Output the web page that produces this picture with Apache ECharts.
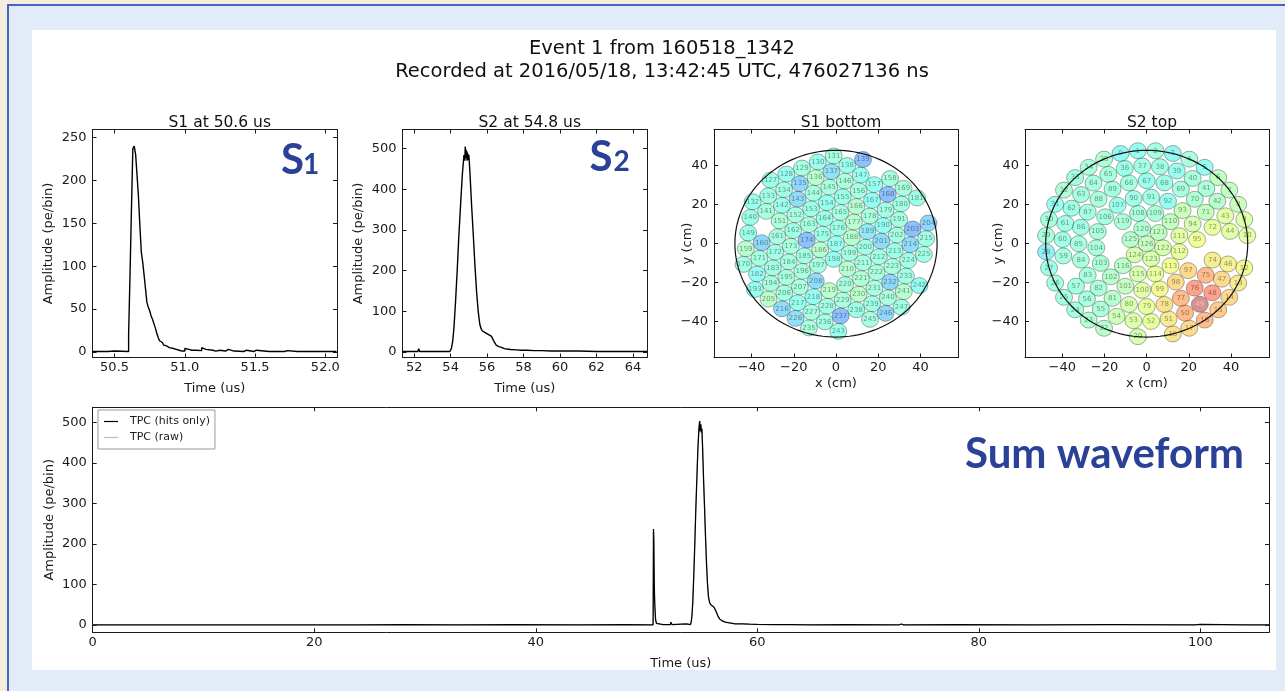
<!DOCTYPE html>
<html><head><meta charset="utf-8">
<script src="https://cdn.jsdelivr.net/npm/echarts@6/dist/echarts.min.js"></script>
<style>
html,body{margin:0;padding:0;width:1285px;height:691px;overflow:hidden;background:#f4ecdc;}
#frame{position:absolute;left:7px;top:4px;width:1290px;height:700px;background:#e2ecf8;border-left:2px solid #4366c4;border-top:2px solid #4366c4;}
#paper{position:absolute;left:32px;top:30px;width:1244px;height:640px;background:#fff;}
#chart{position:absolute;left:0;top:0;width:1285px;height:691px;}
</style></head>
<body><div id="frame"></div><div id="paper"></div><div id="chart"></div>
<script>
// ---------------- DATA ----------------
const titleLine1 = 'Event 1 from 160518_1342';
const titleLine2 = 'Recorded at 2016/05/18, 13:42:45 UTC, 476027136 ns';
const panelTitles = ['S1 at 50.6 us', 'S2 at 54.8 us', 'S1 bottom', 'S2 top'];

// S1 waveform (10 ns bins)
const s1Time = [50.34,50.45,50.5,50.6,50.61,50.62,50.63,50.64,50.65,50.66,50.67,50.68,50.69,50.70,50.71,50.72,50.73,50.74,50.75,50.76,50.77,50.78,50.79,50.80,50.81,50.82,50.83,50.84,50.85,50.86,50.87,50.88,50.89,50.90,50.92,50.94,50.96,50.98,51.00,51.01,51.03,51.05,51.08,51.12,51.13,51.15,51.2,51.22,51.25,51.29,51.31,51.35,51.42,51.44,51.49,51.51,51.6,51.71,51.73,51.8,51.9,52.0,52.08];
const s1Amp  = [0.5,1,0.5,21,90,165,237,240,230,206,181,148,117,105,90,74,58,52,48,42,38,33,28,22,17,13,11,9,8,7,6,5,5,4,3,2,1,1,4,3,2,2,1.5,5,3,2,1,2,1,3,1,0.5,2,0.5,2,0.5,0.5,1.5,0.5,0.5,0.5,0.5,0.5];

// S2 waveform
const s2Time = [51.36,52.2,52.25,52.3,53.55,53.6,53.65,53.96,54.04,54.11,54.18,54.27,54.36,54.45,54.55,54.64,54.73,54.78,54.80,54.82,54.84,54.86,54.88,54.90,54.92,54.94,54.96,54.98,55.00,55.03,55.06,55.10,55.15,55.24,55.33,55.42,55.51,55.60,55.67,55.73,55.80,55.87,55.95,56.06,56.15,56.24,56.28,56.33,56.40,56.51,56.65,56.79,56.95,57.06,57.3,57.6,57.9,58.2,58.6,59.0,59.5,60.0,61.0,62.0,63.0,64.0,64.77];
const s2Amp  = [1,1,8,1,1,5,1,1,8,25,58,124,200,285,365,435,484,470,505,480,498,476,494,470,490,472,486,478,484,462,440,405,360,290,215,150,100,68,57,52,49,48,45,43,45,38,42,30,24,16,13,11,8,7,6,5,4,4,3,3,2,2,2,1,1,1,1];

// Sum waveform (TPC)
const sumTime = [0,2.1,2.2,5.0,8.4,8.5,9.6,11.9,12.0,13.4,13.5,14.9,15.0,16.0,16.1,17.7,17.8,19.4,19.5,21.4,21.5,24,28,33,38,44,48,50.59,50.6,50.61,50.62,50.63,50.64,50.66,50.68,50.70,50.72,50.75,50.78,50.82,50.9,51.0,51.5,52.15,52.2,52.3,53.6,53.96,54.04,54.11,54.18,54.27,54.36,54.45,54.55,54.64,54.73,54.8,54.85,54.9,54.95,55.0,55.06,55.15,55.24,55.33,55.42,55.51,55.6,55.7,55.8,55.95,56.1,56.25,56.33,56.45,56.6,56.8,57.1,57.5,58.0,58.6,59.3,60.0,61.5,63,65,68,72.8,73.0,73.2,78.0,85,92,99.5,100,104,106.2];
const sumHits = [0.5,0.5,2,0.5,0.5,2,0.5,0.5,2,0.5,2.5,0.5,2,0.5,2,0.5,2,0.5,2,0.5,2,0.5,1,0.5,1,0.5,1,0.5,21,90,165,237,240,206,148,105,74,48,33,13,4,3,1,1,7,1,3,1,8,25,58,124,200,285,365,435,484,503,478,495,475,484,440,360,290,215,150,100,68,55,50,46,44,40,30,22,15,11,7,5,3,3,2,1.5,1,1,0.5,1,0.5,2.5,0.5,1,0.5,1,0.5,1.5,0.5,0.5];

// Top PMT array (S2 top): id, position (cm), relative hit fraction (colour scale 0..1)
const topId = [0,1,2,3,4,5,6,7,8,9,10,12,13,14,15,16,17,18,20,22,23,24,25,26,27,28,29,30,31,32,33,34,35,36,37,38,39,40,41,42,43,44,46,47,48,49,50,51,52,53,54,55,56,57,59,60,61,62,63,64,65,66,67,68,69,70,71,72,74,75,76,77,78,79,80,81,82,83,84,85,86,87,88,89,90,91,92,93,94,95,97,98,99,100,101,102,103,104,105,106,107,108,109,110,111,112,113,114,115,116,119,120,121,122,123,124,125,126];
const topX = [-12.4,-4.2,4.2,12.4,20.2,27.5,33.9,39.2,43.4,46.3,47.7,46.3,43.4,39.2,33.9,27.5,20.2,12.4,-4.2,-20.2,-27.5,-33.9,-39.2,-43.4,-46.3,-47.7,-47.7,-46.3,-43.4,-39.2,-33.9,-27.5,-20.2,-10.4,-2.1,6.3,14.3,21.8,28.3,33.5,37.3,39.5,38.6,35.6,31.1,25.2,18.2,10.4,2.1,-6.3,-14.3,-21.8,-28.3,-33.5,-39.5,-39.9,-38.6,-35.6,-31.1,-25.2,-18.2,-8.4,0.0,8.4,16.2,22.8,28.0,31.2,31.2,28.0,22.8,16.2,8.4,0.0,-8.4,-16.2,-22.8,-28.0,-31.2,-32.3,-31.2,-28.0,-22.8,-16.2,-6.2,2.1,10.1,17.0,21.8,23.9,19.7,13.8,6.2,-2.1,-10.1,-17.0,-21.8,-23.9,-23.2,-19.7,-13.8,-4.1,4.1,11.3,15.5,15.5,11.3,4.1,-4.1,-11.3,-11.3,-2.1,5.7,7.7,2.1,-5.7,-7.7,0.0];
const topY = [46.3,47.7,47.7,46.3,43.4,39.2,33.9,27.5,20.2,12.4,4.2,-12.4,-20.2,-27.5,-33.9,-39.2,-43.4,-46.3,-47.7,-43.4,-39.2,-33.9,-27.5,-20.2,-12.4,-4.2,4.2,12.4,20.2,27.5,33.9,39.2,43.4,38.6,39.9,39.5,37.3,33.5,28.3,21.8,14.3,6.3,-10.4,-18.2,-25.2,-31.1,-35.6,-38.6,-39.9,-39.5,-37.3,-33.5,-28.3,-21.8,-6.3,2.1,10.4,18.2,25.2,31.1,35.6,31.2,32.3,31.2,28.0,22.8,16.2,8.4,-8.4,-16.2,-22.8,-28.0,-31.2,-32.3,-31.2,-28.0,-22.8,-16.2,-8.4,0.0,8.4,16.2,22.8,28.0,23.2,23.9,21.8,17.0,10.1,2.1,-13.8,-19.7,-23.2,-23.9,-21.8,-17.0,-10.1,-2.1,6.2,13.8,19.7,15.5,15.5,11.3,4.1,-4.1,-11.3,-15.5,-15.5,-11.3,11.3,7.7,5.7,-2.1,-7.7,-5.7,2.1,0.0];
const topHits = [0.36,0.37,0.42,0.36,0.43,0.37,0.50,0.50,0.52,0.57,0.58,0.64,0.68,0.72,0.76,0.80,0.72,0.70,0.55,0.47,0.45,0.42,0.42,0.42,0.40,0.34,0.43,0.42,0.38,0.45,0.41,0.43,0.45,0.40,0.41,0.41,0.38,0.43,0.44,0.47,0.58,0.58,0.66,0.72,0.86,0.96,0.80,0.68,0.60,0.57,0.53,0.44,0.43,0.42,0.42,0.41,0.41,0.40,0.42,0.42,0.43,0.42,0.39,0.40,0.43,0.45,0.50,0.60,0.67,0.80,0.86,0.80,0.70,0.60,0.55,0.47,0.44,0.43,0.43,0.42,0.41,0.42,0.43,0.42,0.41,0.41,0.38,0.52,0.55,0.62,0.72,0.72,0.64,0.58,0.50,0.47,0.44,0.43,0.43,0.42,0.39,0.43,0.44,0.50,0.58,0.60,0.63,0.60,0.55,0.48,0.44,0.45,0.50,0.55,0.56,0.55,0.47,0.50];

// Bottom PMT array (S1 bottom)
const botId = [127,128,129,130,131,132,133,134,135,136,137,138,139,140,141,142,143,144,145,146,147,149,151,152,153,154,155,156,157,158,159,160,161,162,163,164,165,166,167,168,169,170,171,172,173,174,175,176,177,178,179,180,181,182,183,184,185,186,187,188,189,190,191,193,194,195,196,197,198,199,200,201,202,203,204,205,206,207,208,210,211,212,213,214,215,216,217,218,219,220,221,222,223,224,225,226,227,228,229,230,231,232,233,235,236,237,238,239,240,241,242,243,245,246,247];
const botX = [-31.0,-23.5,-16.1,-8.6,-1.1,-39.5,-32.1,-24.6,-17.1,-9.6,-2.2,5.3,12.8,-40.6,-33.1,-25.6,-18.2,-10.7,-3.2,4.2,11.7,-41.6,-26.7,-19.2,-11.8,-4.3,3.2,10.7,18.1,25.6,-42.7,-35.2,-27.8,-20.3,-12.8,-5.4,2.1,9.6,17.1,24.5,32.0,-43.8,-36.3,-28.8,-21.4,-13.9,-6.4,1.1,8.5,16.0,23.5,30.9,38.4,-37.4,-29.9,-22.4,-14.9,-7.5,0.0,7.5,14.9,22.4,29.9,-38.4,-30.9,-23.5,-16.0,-8.5,-1.1,6.4,13.9,21.4,28.8,36.3,43.8,-32.0,-24.5,-17.1,-9.6,5.4,12.8,20.3,27.8,35.2,42.7,-25.6,-18.1,-10.7,-3.2,4.3,11.8,19.2,26.7,34.2,41.6,-19.2,-11.7,-4.2,3.2,10.7,18.2,25.6,33.1,-12.8,-5.3,2.2,9.6,17.1,24.6,32.1,39.5,1.1,16.1,23.5,31.0];
const botY = [32.6,35.7,38.8,41.9,45.0,21.5,24.6,27.7,30.8,33.9,37.0,40.1,43.2,13.5,16.6,19.7,22.8,25.9,29.0,32.1,35.2,5.5,11.7,14.8,17.9,21.0,24.1,27.2,30.3,33.4,-2.6,0.5,3.6,6.7,9.8,12.9,16.0,19.1,22.2,25.3,28.4,-10.6,-7.5,-4.4,-1.3,1.8,4.9,8.0,11.1,14.2,17.3,20.4,23.5,-15.5,-12.4,-9.3,-6.2,-3.1,0.0,3.1,6.2,9.3,12.4,-23.5,-20.4,-17.3,-14.2,-11.1,-8.0,-4.9,-1.8,1.3,4.4,7.5,10.6,-28.4,-25.3,-22.2,-19.1,-12.9,-9.8,-6.7,-3.6,-0.5,2.6,-33.4,-30.3,-27.2,-24.1,-21.0,-17.9,-14.8,-11.7,-8.6,-5.5,-38.3,-35.2,-32.1,-29.0,-25.9,-22.8,-19.7,-16.6,-43.2,-40.1,-37.0,-33.9,-30.8,-27.7,-24.6,-21.5,-45.0,-38.8,-35.7,-32.6];
const botHits = [0.40,0.38,0.42,0.39,0.42,0.39,0.41,0.41,0.29,0.47,0.31,0.39,0.24,0.40,0.42,0.39,0.30,0.42,0.42,0.44,0.38,0.40,0.44,0.42,0.40,0.38,0.40,0.42,0.38,0.42,0.47,0.29,0.42,0.41,0.42,0.40,0.42,0.46,0.37,0.24,0.43,0.41,0.42,0.41,0.43,0.24,0.40,0.40,0.47,0.43,0.41,0.41,0.40,0.37,0.41,0.42,0.41,0.47,0.38,0.46,0.33,0.37,0.42,0.38,0.42,0.43,0.43,0.42,0.38,0.42,0.41,0.30,0.42,0.24,0.29,0.48,0.42,0.43,0.30,0.46,0.42,0.41,0.40,0.30,0.41,0.30,0.38,0.37,0.48,0.43,0.45,0.43,0.43,0.41,0.41,0.31,0.42,0.41,0.43,0.48,0.43,0.29,0.41,0.43,0.41,0.24,0.40,0.41,0.43,0.47,0.37,0.39,0.42,0.29,0.41];

const detectorRadius = 47.9;

// tick labels
const s1XTicks = [50.5, 51.0, 51.5, 52.0];
const s1YTicks = [0, 50, 100, 150, 200, 250];
const s2XTicks = [52, 54, 56, 58, 60, 62, 64];
const s2YTicks = [0, 100, 200, 300, 400, 500];
const mapTicks = [-40, -20, 0, 20, 40];
const sumXTicks = [0, 20, 40, 60, 80, 100];
const sumYTicks = [0, 100, 200, 300, 400, 500];

// ---------------- CHART ----------------
const FONT = 'DejaVu Sans';
const INK = '#1a1a1a';
const TICK_FS = 13;
const jet = ['#000080','#0000ff','#0080ff','#14ffe2','#7bff7b','#e2ff14','#ff9700','#ff2100','#800000'];

function fmtMinus(v){ return (v < 0 ? '\u2212' : '') + Math.abs(v); }

function axes(grid, min, max, ticks, fmt, name, gap, isX){
  const common = {gridIndex: grid, type:'value', min:min, max:max, scale:true,
    splitLine:{show:false},
    axisLine:{show:true, onZero:false, lineStyle:{color:INK, width:1}}};
  const main = Object.assign({}, common, {
    position: isX ? 'bottom' : 'left',
    name: name, nameLocation:'middle', nameGap: gap, nameMoveOverlap:false,
    nameTextStyle:{fontFamily:FONT, fontSize:13, color:INK},
    axisTick:{show:true, inside:true, length:4, customValues:ticks, lineStyle:{color:INK}},
    axisLabel:{show:true, customValues:ticks, formatter:fmt, margin: isX ? 4 : 6,
      fontFamily:FONT, fontSize:TICK_FS, color:INK}
  });
  const mirror = Object.assign({}, common, {
    position: isX ? 'top' : 'right',
    axisTick:{show:true, inside:true, length:4, customValues:ticks, lineStyle:{color:INK}},
    axisLabel:{show:false}
  });
  return [main, mirror];
}

const grids = [
  {left:92.5, top:129.5, width:244.5, height:228},
  {left:402.5, top:129.5, width:244.5, height:228},
  {left:714, top:129.5, width:244, height:228},
  {left:1025, top:129.5, width:244, height:228},
  {left:92.7, top:407.3, width:1176.3, height:225}
].map(g => Object.assign({containLabel:false, outerBoundsMode:'none'}, g));

const xAxes = [].concat(
  axes(0, 50.343, 52.083, s1XTicks, v => v.toFixed(1), 'Time (us)', 25, true),
  axes(1, 51.36, 64.77, s2XTicks, v => String(v), 'Time (us)', 25, true),
  axes(2, -57.8, 57.8, mapTicks, fmtMinus, 'x (cm)', 20, true),
  axes(3, -57.7, 58.0, mapTicks, fmtMinus, 'x (cm)', 20, true),
  axes(4, 0, 106.2, sumXTicks, v => String(v), 'Time (us)', 25, true)
);
const yAxes = [].concat(
  axes(0, -6.5, 259.3, s1YTicks, v => String(v), 'Amplitude (pe/bin)', 37, false),
  axes(1, -13.8, 546.7, s2YTicks, v => String(v), 'Amplitude (pe/bin)', 37, false),
  axes(2, -58.4, 58.6, mapTicks, fmtMinus, 'y (cm)', 20, false),
  axes(3, -58.4, 58.6, mapTicks, fmtMinus, 'y (cm)', 20, false),
  axes(4, -18, 537, sumYTicks, v => String(v), 'Amplitude (pe/bin)', 37, false)
);

function pmtData(ids, xs, ys, hits){
  return ids.map((id, i) => {
    const item = {name: String(id), value:[xs[i], ys[i], hits[i]]};
    if (hits[i] >= 0.95) item.label = {color:'#ffffff'};
    return item;
  });
}

function boundary(params, api){
  const c = api.coord([api.value(0), api.value(1)]);
  const s = api.size([api.value(2), api.value(2)]);
  const pts = [];
  for (let k = 0; k <= 144; k++) {
    const a = k / 144 * 2 * Math.PI;
    pts.push([c[0] + s[0] * Math.cos(a), c[1] + s[1] * Math.sin(a)]);
  }
  return {type:'polyline', shape:{points:pts}, style:{stroke:'#111', lineWidth:1.2, fill:null}};
}

const pmtSeries = (name, axisIdx, data) => ({
  type:'scatter', name:name, xAxisIndex:axisIdx, yAxisIndex:axisIdx, data:data,
  symbol:'circle', symbolSize:[17, 16],
  itemStyle:{opacity:0.45, borderColor:'#333', borderWidth:0.9},
  label:{show:true, position:'inside', formatter:'{b}', fontSize:7, fontFamily:FONT, color:'#111'},
  emphasis:{disabled:true}, z:3
});

const pair = (ts, vs) => ts.map((t, i) => [t, vs[i]]);
const ptitle = (text, x) => ({text:text, left:x, top:110, textAlign:'center',
  textStyle:{fontFamily:FONT, fontSize:15.5, fontWeight:'normal', color:'#111'}});

const option = {
  animation:false,
  backgroundColor:'transparent',
  textStyle:{fontFamily:FONT},
  title:[
    {text: titleLine1 + '\n' + titleLine2, left:657, top:32, textAlign:'center',
      textStyle:{fontFamily:FONT, fontSize:19.5, fontWeight:'normal', color:'#111', lineHeight:23}},
    ptitle(panelTitles[0], 214.75),
    ptitle(panelTitles[1], 524.75),
    ptitle(panelTitles[2], 836),
    ptitle(panelTitles[3], 1147)
  ],
  grid: grids,
  xAxis: xAxes,
  yAxis: yAxes,
  legend:{
    data:['TPC (hits only)', 'TPC (raw)'], left:98, top:410, orient:'vertical',
    icon:'rect', itemWidth:14, itemHeight:1.2, itemGap:5,
    borderColor:'#9a9a9a', borderWidth:1, padding:[6, 5, 6, 6], backgroundColor:'#fff',
    textStyle:{fontFamily:FONT, fontSize:11, color:INK, padding:[0,0,0,7]},
    selectedMode:false
  },
  visualMap:[
    {show:false, type:'continuous', seriesIndex:2, dimension:2, min:0, max:1, inRange:{color:jet}},
    {show:false, type:'continuous', seriesIndex:4, dimension:2, min:0, max:1, inRange:{color:jet}}
  ],
  series:[
    {type:'line', name:'S1', xAxisIndex:0, yAxisIndex:0, step:'end', data:pair(s1Time, s1Amp),
      symbol:'none', lineStyle:{color:'#000', width:1.4}, itemStyle:{color:'#000'}, silent:true},
    {type:'line', name:'S2', xAxisIndex:2, yAxisIndex:2, data:pair(s2Time, s2Amp),
      symbol:'none', lineStyle:{color:'#000', width:1.4}, itemStyle:{color:'#000'}, silent:true},
    pmtSeries('S1 bottom', 4, pmtData(botId, botX, botY, botHits)),
    {type:'custom', xAxisIndex:4, yAxisIndex:4, renderItem:boundary, data:[[0, 0, detectorRadius]], z:4, silent:true},
    pmtSeries('S2 top', 6, pmtData(topId, topX, topY, topHits)),
    {type:'custom', xAxisIndex:6, yAxisIndex:6, renderItem:boundary, data:[[0, 0, detectorRadius]], z:4, silent:true},
    {type:'line', name:'TPC (raw)', xAxisIndex:8, yAxisIndex:8, data:pair(sumTime, sumHits),
      symbol:'none', lineStyle:{color:'#bdbdbd', width:1}, itemStyle:{color:'#bdbdbd'}, silent:true},
    {type:'line', name:'TPC (hits only)', xAxisIndex:8, yAxisIndex:8, data:pair(sumTime, sumHits),
      symbol:'none', lineStyle:{color:'#000', width:1.3}, itemStyle:{color:'#000'}, silent:true}
  ],
  graphic:[
    {type:'text', z:100, style:{text:'S', x:292.5, y:160, align:'center', verticalAlign:'middle', fontFamily:'Lato', fontWeight:'bold', fontSize:42, fill:'#2b4198'}},
    {type:'text', z:100, style:{text:'1', x:311, y:165, align:'center', verticalAlign:'middle', fontFamily:'Lato', fontWeight:'bold', fontSize:28, fill:'#2b4198'}},
    {type:'text', z:100, style:{text:'S', x:601, y:157, align:'center', verticalAlign:'middle', fontFamily:'Lato', fontWeight:'bold', fontSize:42, fill:'#2b4198'}},
    {type:'text', z:100, style:{text:'2', x:621.5, y:162, align:'center', verticalAlign:'middle', fontFamily:'Lato', fontWeight:'bold', fontSize:28, fill:'#2b4198'}},
    {type:'text', z:100, style:{text:'Sum waveform', x:1104.5, y:454, align:'center', verticalAlign:'middle', fontFamily:'Lato', fontWeight:'bold', fontSize:42, fill:'#2b4198'}}
  ]
};

const chart = echarts.init(document.getElementById('chart'), null, {renderer:'canvas', width:1285, height:691});
chart.setOption(option);
</script>
</body></html>
